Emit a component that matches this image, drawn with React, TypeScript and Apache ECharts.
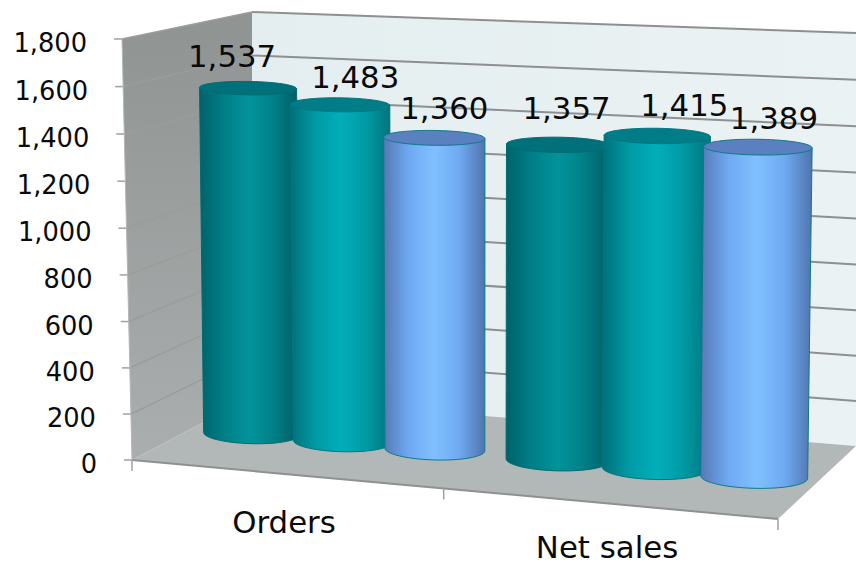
import React, { useEffect, useRef } from "react";
import * as echarts from "echarts";

const categories = ["Orders", "Net sales"];
const yTicks = [0, 200, 400, 600, 800, 1000, 1200, 1400, 1600, 1800];
const seriesA = [1537, 1357];
const seriesB = [1483, 1415];
const seriesC = [1360, 1389];

const FONT = "'DejaVu Sans', Verdana, sans-serif";

// The front face of the plot box is the cartesian grid; depth is added by project().
const GRID = { left: 132, top: 39, width: 646, height: 421 };

// Screen positions of the box corners: [front/back][left/right][bottom/top]
const BOX = {
  flb: [132, 460], flt: [122, 39],
  frb: [778, 519], frt: [790, 67],
  blb: [252, 397], blt: [252, 12],
  brb: [856, 446], brt: [856, 33],
};

const lerp = (a: number, b: number, t: number) => a + (b - a) * t;
const lerp2 = (p: number[], q: number[], t: number) => [lerp(p[0], q[0], t), lerp(p[1], q[1], t)];

// Slight foreshortening along the width and the height of the box.
const easeU = (u: number) => u - 0.07 * u * (1 - u);
const easeV = (v: number) => v - 0.02 * v * (1 - v);

function project(u: number, v: number, w: number) {
  const U = easeU(u);
  const V = easeV(v);
  const fb = lerp2(BOX.flb, BOX.frb, U);
  const ft = lerp2(BOX.flt, BOX.frt, U);
  const bb = lerp2(BOX.blb, BOX.brb, U);
  const bt = lerp2(BOX.blt, BOX.brt, U);
  return lerp2(lerp2(fb, ft, V), lerp2(bb, bt, V), w);
}

const toU = (px: number) => (px - GRID.left) / GRID.width;
const toV = (py: number) => (GRID.top + GRID.height - py) / GRID.height;

const line = (a: number[], b: number[], stroke: string, lineWidth: number) => ({
  type: "line",
  shape: { x1: a[0], y1: a[1], x2: b[0], y2: b[1] },
  style: { stroke, lineWidth },
});
const poly = (points: number[][], fill: any) => ({
  type: "polygon",
  shape: { points },
  style: { fill },
});
const label = (x: number, y: number, text: string, fontSize: number, align = "center") => ({
  type: "text",
  x,
  y,
  style: { text, fontSize, fontFamily: FONT, fill: "#0a0a0a", align, verticalAlign: "middle" },
});

// Distance of each category name below the floor's front edge.
const categoryDrop = [48, 44];

function renderFrame(_: any, api: any) {
  const children: any[] = [];
  const c = (a: number, b: number, d: number) => project(a, b, d);
  const wallGrad = new echarts.graphic.LinearGradient(0, 0, 0, 1, [
    { offset: 0, color: "#8f9392" },
    { offset: 1, color: "#aaaeae" },
  ]);
  const backGrad = new echarts.graphic.LinearGradient(0, 0, 1, 0, [
    { offset: 0, color: "#e4eef0" },
    { offset: 1, color: "#ebf2f3" },
  ]);
  children.push(poly([c(0, 0, 1), c(0, 1, 1), c(1, 1, 1), c(1, 0, 1)], backGrad));
  children.push(poly([c(0, 0, 0), c(0, 1, 0), c(0, 1, 1), c(0, 0, 1)], wallGrad));
  children.push(poly([c(0, 0, 0), c(1, 0, 0), c(1, 0, 1), c(0, 0, 1)], "#b2b8b7"));

  yTicks.forEach((tick) => {
    const v = toV(api.coord([0, tick])[1]);
    const front = c(0, v, 0);
    const back = c(0, v, 1);
    const right = c(1, v, 1);
    if (tick > 0) {
      children.push(line(front, back, "#9a9d9c", 1.5));
      children.push(line(back, right, "#8e8f8f", 2));
    }
    children.push(line([front[0] - 8, front[1]], front, "#a0a0a0", 1.5));
    children.push(label(front[0] - 35, front[1] + 4, tick.toLocaleString("en-US"), 25.7, "right"));
  });

  children.push(line(c(0, 0, 0), c(1, 0, 0), "#8e9190", 2));
  children.push(line(c(0, 0, 0), c(0, 1, 0), "#b4b7b6", 1));
  [0, 0.5, 1].forEach((u) => {
    const p = c(u, 0, 0);
    children.push(line(p, [p[0], p[1] + 11], "#a0a0a0", 1.5));
  });
  categories.forEach((name, i) => {
    const p = c(toU(api.coord([i, 0])[0]), 0, 0);
    children.push(label(p[0] - 1, p[1] + categoryDrop[i], name, 30.8));
  });
  return { type: "group", children };
}

// Cylinder silhouette helpers: ellipses get a gentler tilt than the floor edge.
function ring(u: number, v: number, r: number) {
  const l = project(u - r, v, 0.5);
  const h = project(u + r, v, 0.5);
  const cx = (l[0] + h[0]) / 2;
  const cy = (l[1] + h[1]) / 2;
  const a = (h[0] - l[0]) / 2;
  const tilt = (0.3 * (h[1] - l[1])) / (h[0] - l[0]);
  const b = 2 * a * (0.105 - 0.042 * v);
  const at = (t: number) => [cx + a * Math.cos(t), cy + a * Math.cos(t) * tilt + b * Math.sin(t)];
  return { at };
}

const RADIUS = 0.081;
const SPACING = 0.152;
const NUDGE = 0.003;

interface Look {
  side: string[];
  cap: string;
  edge: string;
}

const looks: Look[] = [
  { side: ["#00626a", "#007f87", "#03939b", "#007f87", "#005c63"], cap: "#00717a", edge: "#006a72" },
  { side: ["#00707a", "#009aa5", "#02aeb9", "#009aa5", "#00747c"], cap: "#007d86", edge: "#007780" },
  { side: ["#5679b4", "#6fa9f2", "#80c0ff", "#6fa9f2", "#4f74ad"], cap: "#5a80c0", edge: "#0b7a8c" },
];

// Hand-placed value labels, as offsets from the centre of each cylinder's cap.
const labelShift = [
  [[-16, -32], [8, -37]],
  [[15, -28], [27, -31]],
  [[10, -30], [16, -29]],
];

const makeCylinder = (index: number) => (_: any, api: any) => {
  const cat = api.value(0);
  const value = api.value(1);
  const origin = api.coord([cat, value]);
  const u = toU(origin[0]) + (index - 1) * SPACING + NUDGE;
  const v = toV(origin[1]);
  const look = looks[index];
  const top = ring(u, v, RADIUS);
  const bottom = ring(u, 0, RADIUS);
  const steps = 40;
  const body: number[][] = [top.at(Math.PI), top.at(0)];
  for (let i = 0; i <= steps; i++) body.push(bottom.at((Math.PI * i) / steps));
  const cap: number[][] = [];
  for (let i = 0; i < steps * 2; i++) cap.push(top.at((Math.PI * i) / steps));
  const grad = new echarts.graphic.LinearGradient(
    0, 0, 1, 0,
    look.side.map((color, i) => ({ offset: [0, 0.25, 0.5, 0.75, 1][i], color })),
  );
  const l = top.at(Math.PI);
  const r = top.at(0);
  const shift = labelShift[index][cat];
  return {
    type: "group",
    children: [
      { type: "polygon", shape: { points: body }, style: { fill: grad, stroke: look.edge, lineWidth: 1 } },
      { type: "polygon", shape: { points: cap }, style: { fill: look.cap, stroke: look.edge, lineWidth: 1 } },
      label((l[0] + r[0]) / 2 + shift[0], (l[1] + r[1]) / 2 + shift[1], value.toLocaleString("en-US"), 30.8),
    ],
  };
};

export default function App() {
  const ref = useRef<HTMLDivElement>(null);
  useEffect(() => {
    const chart = echarts.init(ref.current!, undefined, { renderer: "svg" });
    const cylinder = (index: number, values: number[]) => ({
      type: "custom",
      coordinateSystem: "cartesian2d",
      silent: true,
      renderItem: makeCylinder(index),
      encode: { x: 0, y: 1 },
      data: values.map((value, i) => [i, value]),
    });
    chart.setOption({
      animation: false,
      backgroundColor: "#ffffff",
      grid: GRID,
      xAxis: { type: "category", data: categories, show: false },
      yAxis: { type: "value", min: 0, max: 1800, interval: 200, show: false },
      series: [
        {
          type: "custom",
          coordinateSystem: "cartesian2d",
          silent: true,
          renderItem: renderFrame,
          encode: { x: 0, y: 1 },
          data: [[0, 0]],
        },
        cylinder(0, seriesA),
        cylinder(1, seriesB),
        cylinder(2, seriesC),
      ],
    });
    return () => chart.dispose();
  }, []);
  return <div ref={ref} style={{ position: "fixed", left: 0, top: 0, width: 856, height: 566 }} />;
}
